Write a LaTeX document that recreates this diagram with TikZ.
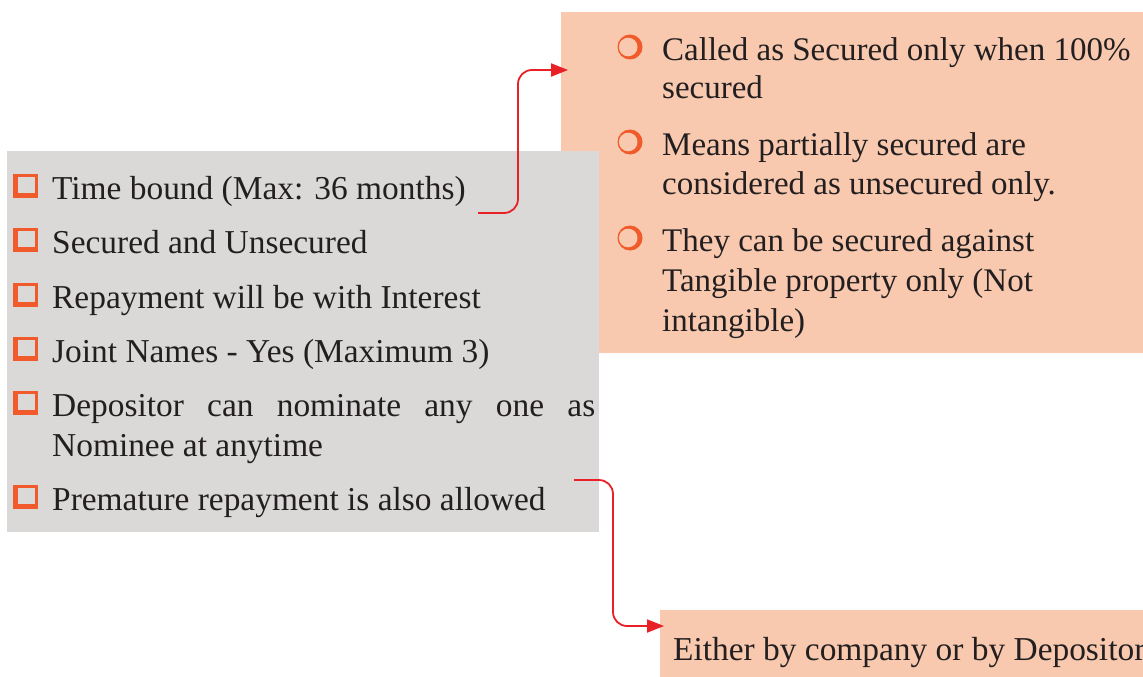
\documentclass[tikz,border=0pt]{standalone}
\usepackage{fontspec}
\setmainfont{Liberation Serif}
\usetikzlibrary{arrows.meta}
\definecolor{grayfill}{HTML}{DAD9D8}
\definecolor{peach}{HTML}{F8C9AF}
\definecolor{bulletorange}{HTML}{F15A2B}
\definecolor{arrowred}{HTML}{E92127}
\definecolor{txt}{HTML}{231F20}
\tikzset{
  x=1pt, y=-1pt,
  txtline/.style={anchor=base west, inner sep=0pt, text=txt, font=\fontsize{33.4}{40}\selectfont},
  conn/.style={draw=arrowred, line width=1.8pt, rounded corners=14pt, -{Triangle[length=17pt,width=13pt]}},
  sqb/.pic={
    \fill[bulletorange] (-13,-12) rectangle (12,12);
    \fill[#1] (-8,-9) rectangle (9,7);
  },
  crb/.pic={
    \fill[bulletorange] (0,0) circle[radius=12.5pt];
    \fill[#1] (-1.8,0) circle[radius=9.3pt];
  }
}
\begin{document}
\begin{tikzpicture}
\useasboundingbox (0,0) rectangle (1143,677);
\clip (0,0) rectangle (1143,677);
% boxes
\node[fill=peach, inner sep=0pt, minimum width=582pt, minimum height=341pt, anchor=north west] (pk1) at (561,12) {};
\node[fill=grayfill, inner sep=0pt, minimum width=592pt, minimum height=381pt, anchor=north west] (gbox) at (7,151) {};
\node[fill=peach, inner sep=0pt, minimum width=483pt, minimum height=67pt, anchor=north west] (pk2) at (660,610) {};
% left bullets
\foreach \b in {199,253,308,362,416,510} {
  \pic at (26,\b-13) {sqb=grayfill};
}
% left text
\node[txtline] (t1) at (52,199) {Time bound (Max: 36 months)};
\node[txtline] (t2) at (52,253) {Secured and Unsecured};
\node[txtline] (t3) at (52,308) {Repayment will be with Interest};
\node[txtline] (t4) at (52,362) {Joint Names - Yes (Maximum 3)};
\node[txtline] (t5) at (52,416) {\makebox[543pt][s]{Depositor can nominate any one as}};
\node[txtline] (t5b) at (52,456) {Nominee at anytime};
\node[txtline] (t6) at (52,510) {Premature repayment is also allowed};
% right bullets
\foreach \b in {60,155,251} {
  \pic at (630,\b-13) {crb=peach};
}
% right text
\node[txtline, font=\fontsize{33}{40}\selectfont] (r1) at (662,60) {Called as Secured only when 100\%};
\node[txtline, font=\fontsize{33}{40}\selectfont] (r1b) at (662,99) {secured};
\node[txtline, font=\fontsize{33}{40}\selectfont] (r2) at (662,155) {Means partially secured are};
\node[txtline, font=\fontsize{33}{40}\selectfont] (r2b) at (662,194) {considered as unsecured only.};
\node[txtline, font=\fontsize{33}{40}\selectfont] (r3) at (662,251) {They can be secured against};
\node[txtline, font=\fontsize{33}{40}\selectfont] (r3b) at (662,291) {Tangible property only (Not};
\node[txtline, font=\fontsize{33}{40}\selectfont] (r3c) at (662,331) {intangible)};
% bottom text
\node[txtline] (b1) at (673,660) {Either by company or by Depositor};
% connectors
\coordinate (a1s) at (478,213);
\coordinate (a1m) at (518,70);
\coordinate (a1e) at (568,70);
\draw[conn] (a1s) -| (a1m) -- (a1e);
\coordinate (a2s) at (574,480);
\coordinate (a2m) at (613,626);
\coordinate (a2e) at (664,626);
\draw[conn] (a2s) -| (a2m) -- (a2e);
\end{tikzpicture}
\end{document}
